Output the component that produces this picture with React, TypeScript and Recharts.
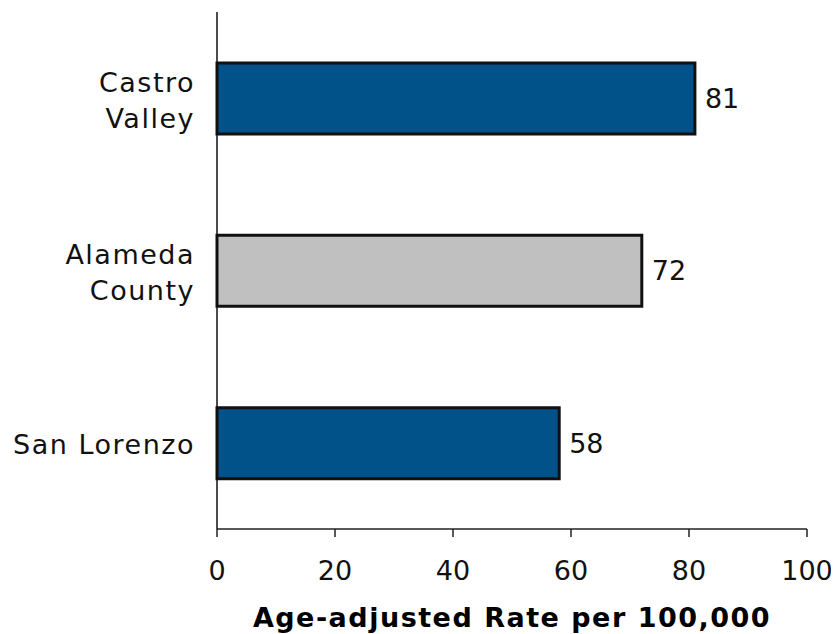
import React from 'react';
import { BarChart, Bar, XAxis, YAxis, Cell, LabelList } from 'recharts';

const areas = ['Castro Valley', 'Alameda County', 'San Lorenzo'];
const rates = [81, 72, 58];
const barColors = ['#02528A', '#C0C0C0', '#02528A'];
const rateTicks = [0, 20, 40, 60, 80, 100];

const data = areas.map((name, i) => ({ name, rate: rates[i] }));

const FONT = '"DejaVu Sans", Verdana, sans-serif';

// Category names wrap onto two lines when they have two words,
// except the single-line "San Lorenzo".
const AreaTick = (props: any) => {
  const { x, y, payload } = props;
  const label: string = payload.value;
  const lines = label === 'San Lorenzo' ? [label] : label.split(' ');
  const lineHeight = 36;
  const startY = y + 2 - ((lines.length - 1) * lineHeight) / 2;
  return (
    <text
      x={x}
      y={startY}
      textAnchor="end"
      fontFamily={FONT}
      fontSize={27}
      letterSpacing={1.5}
      fill="#111"
    >
      {lines.map((line, i) => (
        <tspan key={i} x={x} y={startY + i * lineHeight} dominantBaseline="central">
          {line}
        </tspan>
      ))}
    </text>
  );
};

export default function App() {
  return (
    <div style={{ width: 831, height: 626, background: '#fff' }}>
      <BarChart
        width={831}
        height={626}
        data={data}
        layout="vertical"
        margin={{ top: 4, right: 32, bottom: 0, left: 0 }}
        barSize={71}
      >
        <XAxis
          type="number"
          domain={[0, 100]}
          ticks={rateTicks}
          height={105}
          axisLine={{ stroke: '#222', strokeWidth: 1.5 }}
          tickLine={{ stroke: '#222', strokeWidth: 1.5 }}
          tickSize={8}
          tickMargin={24}
          tick={{ fill: '#111', fontSize: 27, fontFamily: FONT }}
          label={{
            value: 'Age-adjusted Rate per 100,000',
            position: 'insideBottom',
            offset: 7,
            fill: '#000',
            fontSize: 27,
            fontWeight: 'bold',
            fontFamily: FONT,
            letterSpacing: 1.5,
          }}
        />
        <YAxis
          type="category"
          dataKey="name"
          width={209}
          axisLine={{ stroke: '#111', strokeWidth: 1.5 }}
          tickLine={false}
          tickSize={0}
          tickMargin={22}
          tick={<AreaTick />}
        />
        <Bar dataKey="rate" stroke="#111" strokeWidth={3} isAnimationActive={false}>
          {data.map((d, i) => (
            <Cell key={d.name} fill={barColors[i]} />
          ))}
          <LabelList
            dataKey="rate"
            position="right"
            offset={10}
            fill="#111"
            fontSize={27}
            fontFamily={FONT}
          />
        </Bar>
      </BarChart>
    </div>
  );
}
